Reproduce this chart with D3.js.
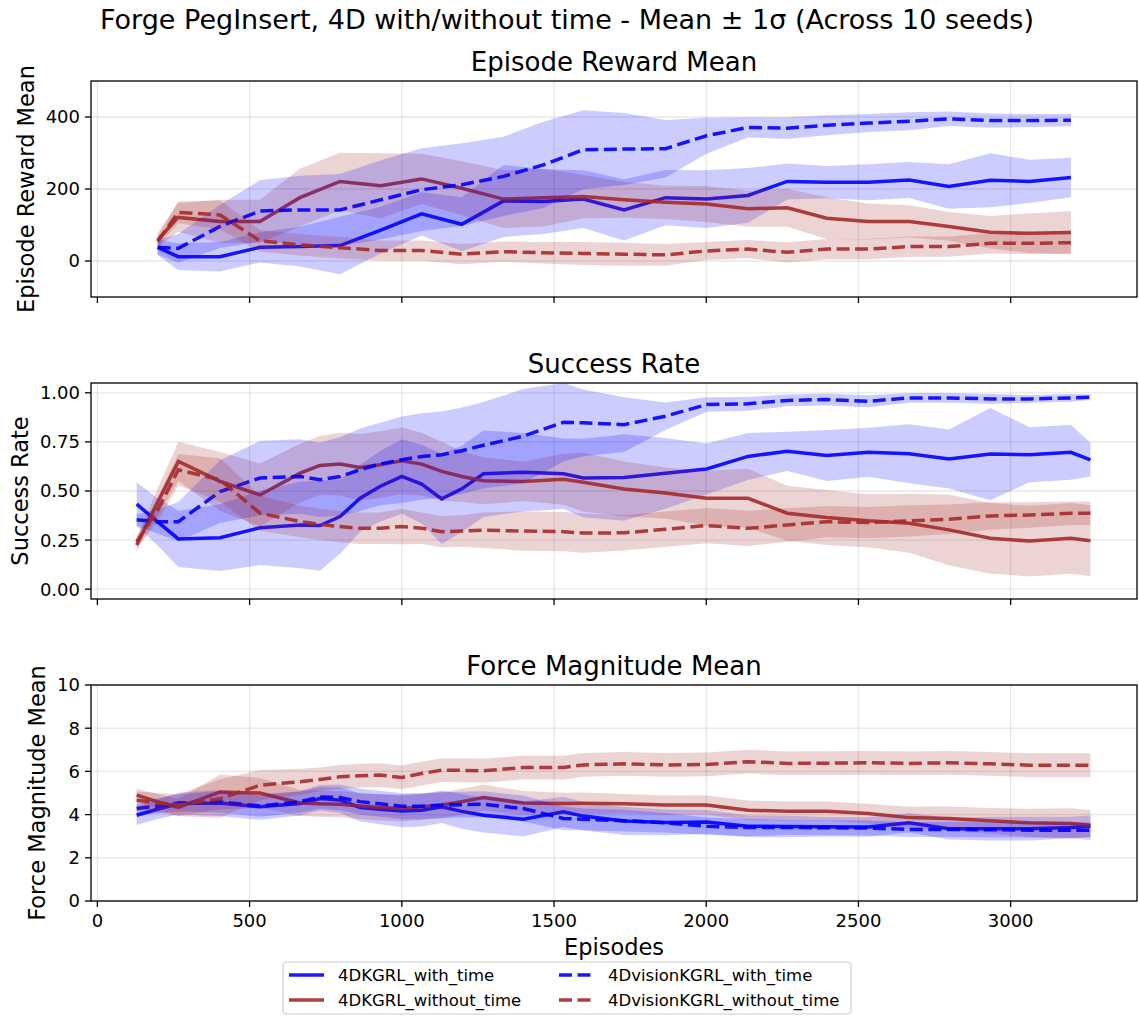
<!DOCTYPE html>
<html lang="en">
<head>
    <meta charset="UTF-8">
    <title>Forge PegInsert</title>
    <style>
        body { margin: 0; background: #fff; }
        svg { display: block; font-family: "DejaVu Sans", sans-serif; }
    </style>
    <script src="https://d3js.org/d3.v7.min.js"></script>
</head>
<body>
<svg id="chart" width="1139" height="1016"></svg>

<script>
    // episodes sampled in the top panel
    const episodesReward = [198, 265, 403, 534, 665, 797, 931, 1065, 1197, 1334, 1465, 1596,
        1730, 1866, 2001, 2137, 2266, 2396, 2532, 2667, 2797, 2933, 3062, 3198];
    // episodes sampled in the two lower panels
    const episodesDense = [129, 197, 266, 403, 534, 666, 731, 797, 863, 928, 1000, 1065, 1131,
        1197, 1268, 1399, 1531, 1596, 1730, 1866, 2001, 2137, 2266, 2396, 2532, 2667, 2797,
        2933, 3062, 3198, 3262];

    const seriesNames = ["4DKGRL_with_time", "4DKGRL_without_time",
        "4DvisionKGRL_with_time", "4DvisionKGRL_without_time"];

    // Episode Reward Mean
    const rewardKgrlTime = [38, 12, 12, 38, 40, 43, 86, 131, 102, 167, 165, 172, 142, 176, 172, 182, 221, 219, 219, 225, 207, 224, 221, 232];
    const rewardKgrlTimeSd = [22, 37, 41, 42, 55, 80, 65, 60, 75, 100, 90, 80, 85, 77, 80, 76, 50, 45, 50, 50, 62, 75, 60, 55];
    const rewardKgrlNoTime = [58, 121, 110, 110, 176, 221, 209, 228, 202, 172, 176, 179, 170, 163, 158, 145, 148, 119, 110, 110, 96, 80, 77, 79];
    const rewardKgrlNoTimeSd = [20, 40, 60, 60, 80, 80, 90, 70, 75, 80, 80, 60, 50, 46, 50, 50, 53, 58, 50, 45, 40, 45, 55, 60];
    const rewardVisionTime = [38, 35, 96, 139, 142, 142, 170, 198, 212, 235, 267, 309, 311, 312, 348, 371, 369, 377, 383, 388, 395, 390, 390, 391];
    const rewardVisionTimeSd = [20, 40, 60, 85, 95, 100, 110, 115, 115, 110, 120, 110, 100, 80, 50, 28, 30, 28, 25, 25, 20, 20, 18, 17];
    const rewardVisionNoTime = [54, 135, 128, 56, 45, 37, 29, 29, 19, 26, 23, 21, 19, 17, 28, 33, 24, 33, 33, 40, 40, 49, 49, 51];
    const rewardVisionNoTimeSd = [15, 30, 40, 30, 30, 30, 28, 28, 28, 28, 30, 32, 32, 30, 25, 25, 28, 28, 28, 28, 28, 28, 30, 30];

    // Success Rate
    const successKgrlTime = [0.433, 0.344, 0.256, 0.262, 0.313, 0.327, 0.324, 0.37, 0.463, 0.523, 0.574, 0.535, 0.46, 0.511, 0.588, 0.596, 0.588, 0.566, 0.569, 0.59, 0.612, 0.676, 0.702, 0.681, 0.697, 0.69, 0.663, 0.688, 0.685, 0.697, 0.659];
    const successKgrlTimeSd = [0.11, 0.12, 0.143, 0.17, 0.19, 0.22, 0.23, 0.19, 0.17, 0.18, 0.19, 0.2, 0.23, 0.22, 0.22, 0.2, 0.18, 0.2, 0.22, 0.18, 0.13, 0.12, 0.1, 0.13, 0.125, 0.15, 0.15, 0.235, 0.14, 0.14, 0.085];
    const successKgrlNoTime = [0.225, 0.44, 0.651, 0.549, 0.48, 0.591, 0.63, 0.637, 0.62, 0.634, 0.654, 0.637, 0.6, 0.574, 0.552, 0.549, 0.56, 0.545, 0.51, 0.49, 0.463, 0.463, 0.387, 0.365, 0.348, 0.336, 0.302, 0.259, 0.245, 0.259, 0.247];
    const successKgrlNoTimeSd = [0.03, 0.07, 0.1, 0.15, 0.16, 0.15, 0.15, 0.16, 0.17, 0.17, 0.17, 0.16, 0.15, 0.13, 0.12, 0.1, 0.13, 0.15, 0.14, 0.13, 0.14, 0.15, 0.14, 0.14, 0.135, 0.15, 0.18, 0.18, 0.18, 0.18, 0.18];
    const successVisionTime = [0.353, 0.344, 0.344, 0.497, 0.566, 0.574, 0.557, 0.574, 0.608, 0.637, 0.659, 0.676, 0.685, 0.705, 0.733, 0.779, 0.85, 0.847, 0.838, 0.881, 0.94, 0.944, 0.961, 0.966, 0.957, 0.974, 0.974, 0.969, 0.969, 0.974, 0.978];
    const successVisionTimeSd = [0.03, 0.06, 0.1, 0.16, 0.19, 0.19, 0.19, 0.2, 0.21, 0.21, 0.22, 0.22, 0.22, 0.22, 0.22, 0.24, 0.2, 0.17, 0.14, 0.07, 0.037, 0.035, 0.03, 0.03, 0.03, 0.025, 0.025, 0.025, 0.02, 0.02, 0.013];
    const successVisionNoTime = [0.242, 0.4, 0.608, 0.557, 0.387, 0.344, 0.33, 0.319, 0.31, 0.31, 0.319, 0.31, 0.293, 0.296, 0.3, 0.296, 0.293, 0.286, 0.287, 0.305, 0.324, 0.31, 0.327, 0.344, 0.339, 0.348, 0.356, 0.373, 0.378, 0.387, 0.387];
    const successVisionNoTimeSd = [0.03, 0.06, 0.08, 0.11, 0.09, 0.08, 0.08, 0.08, 0.08, 0.08, 0.09, 0.08, 0.08, 0.08, 0.09, 0.1, 0.1, 0.1, 0.09, 0.09, 0.09, 0.09, 0.085, 0.08, 0.08, 0.08, 0.075, 0.07, 0.065, 0.06, 0.06];

    // Force Magnitude Mean
    const forceKgrlTime = [3.97, 4.25, 4.51, 4.54, 4.36, 4.51, 4.74, 4.67, 4.33, 4.25, 4.17, 4.2, 4.36, 4.15, 3.97, 3.79, 4.13, 3.93, 3.7, 3.64, 3.66, 3.46, 3.45, 3.44, 3.43, 3.62, 3.35, 3.35, 3.35, 3.4, 3.46];
    const forceKgrlTimeSd = [0.45, 0.45, 0.5, 0.6, 0.6, 0.55, 0.55, 0.6, 0.65, 0.7, 0.75, 0.75, 0.75, 0.8, 0.8, 0.8, 0.7, 0.65, 0.65, 0.6, 0.55, 0.5, 0.5, 0.45, 0.45, 0.45, 0.5, 0.55, 0.55, 0.5, 0.5];
    const forceKgrlNoTime = [4.9, 4.6, 4.33, 5.05, 5.0, 4.54, 4.5, 4.48, 4.4, 4.33, 4.28, 4.36, 4.44, 4.6, 4.79, 4.54, 4.51, 4.52, 4.5, 4.44, 4.44, 4.2, 4.16, 4.16, 4.05, 3.86, 3.82, 3.71, 3.62, 3.59, 3.51];
    const forceKgrlNoTimeSd = [0.3, 0.35, 0.4, 0.8, 0.7, 0.6, 0.6, 0.6, 0.6, 0.6, 0.6, 0.6, 0.6, 0.6, 0.6, 0.55, 0.5, 0.5, 0.45, 0.45, 0.45, 0.45, 0.45, 0.45, 0.45, 0.5, 0.55, 0.6, 0.65, 0.7, 0.7];
    const forceVisionTime = [4.28, 4.4, 4.54, 4.59, 4.4, 4.59, 4.82, 4.79, 4.6, 4.5, 4.39, 4.39, 4.43, 4.46, 4.48, 4.28, 3.82, 3.78, 3.72, 3.62, 3.46, 3.4, 3.4, 3.39, 3.38, 3.31, 3.31, 3.3, 3.28, 3.28, 3.28];
    const forceVisionTimeSd = [0.3, 0.35, 0.4, 0.5, 0.5, 0.5, 0.55, 0.6, 0.6, 0.6, 0.6, 0.6, 0.6, 0.6, 0.6, 0.6, 0.55, 0.5, 0.5, 0.45, 0.4, 0.4, 0.35, 0.35, 0.35, 0.35, 0.35, 0.35, 0.35, 0.35, 0.35];
    const forceVisionNoTime = [4.67, 4.55, 4.44, 4.74, 5.36, 5.52, 5.63, 5.75, 5.8, 5.83, 5.72, 5.9, 6.06, 6.05, 6.03, 6.18, 6.18, 6.3, 6.35, 6.3, 6.32, 6.45, 6.37, 6.38, 6.4, 6.37, 6.4, 6.35, 6.29, 6.29, 6.29];
    const forceVisionNoTimeSd = [0.4, 0.45, 0.5, 0.9, 0.7, 0.6, 0.55, 0.55, 0.55, 0.55, 0.55, 0.55, 0.55, 0.55, 0.55, 0.55, 0.55, 0.55, 0.55, 0.55, 0.55, 0.55, 0.55, 0.55, 0.55, 0.55, 0.55, 0.55, 0.55, 0.55, 0.55];

    const xTicks = [0, 500, 1000, 1500, 2000, 2500, 3000];

    const BLUE = "#0000ff", RED = "#a52a2a";
    const styles = [
        {color: BLUE, dash: null},
        {color: RED, dash: null},
        {color: BLUE, dash: "13,5.5"},
        {color: RED, dash: "13,5.5"}
    ];

    const panels = [
        {
            title: "Episode Reward Mean", ylabel: "Episode Reward Mean",
            domain: [-100, 500], ticks: [0, 200, 400], fmt: d3.format("d"),
            x: episodesReward,
            mean: [rewardKgrlTime, rewardKgrlNoTime, rewardVisionTime, rewardVisionNoTime],
            sd: [rewardKgrlTimeSd, rewardKgrlNoTimeSd, rewardVisionTimeSd, rewardVisionNoTimeSd]
        },
        {
            title: "Success Rate", ylabel: "Success Rate",
            domain: [-0.05, 1.05], ticks: [0, 0.25, 0.5, 0.75, 1], fmt: d3.format(".2f"),
            x: episodesDense,
            mean: [successKgrlTime, successKgrlNoTime, successVisionTime, successVisionNoTime],
            sd: [successKgrlTimeSd, successKgrlNoTimeSd, successVisionTimeSd, successVisionNoTimeSd]
        },
        {
            title: "Force Magnitude Mean", ylabel: "Force Magnitude Mean",
            domain: [0, 10], ticks: [0, 2, 4, 6, 8, 10], fmt: d3.format("d"),
            x: episodesDense,
            mean: [forceKgrlTime, forceKgrlNoTime, forceVisionTime, forceVisionNoTime],
            sd: [forceKgrlTimeSd, forceKgrlNoTimeSd, forceVisionTimeSd, forceVisionNoTimeSd]
        }
    ];

    const svg = d3.select("#chart");
    const left = 91, right = 1137, panelH = 216;
    const tops = [81, 383, 685];

    const x = d3.scaleLinear().domain([-21, 3415]).range([left, right]);

    svg.append("rect").attr("width", 1139).attr("height", 1016).attr("fill", "#fff");

    svg.append("text")
        .attr("x", 567).attr("y", 29)
        .attr("text-anchor", "middle")
        .attr("font-size", "27px")
        .text("Forge PegInsert, 4D with/without time - Mean \u00b1 1\u03c3 (Across 10 seeds)");

    panels.forEach(function (p, pi) {
        const top = tops[pi], bottom = top + panelH;
        const y = d3.scaleLinear().domain(p.domain).range([bottom, top]);
        const g = svg.append("g");

        g.append("clipPath").attr("id", "clip" + pi)
            .append("rect").attr("x", left).attr("y", top)
            .attr("width", right - left).attr("height", panelH);

        // grid
        const grid = g.append("g").attr("stroke", "#b0b0b0").attr("stroke-opacity", 0.3).attr("stroke-width", 1.3);
        xTicks.forEach(function (t) {
            grid.append("line").attr("x1", x(t)).attr("x2", x(t)).attr("y1", top).attr("y2", bottom);
        });
        p.ticks.forEach(function (t) {
            grid.append("line").attr("x1", left).attr("x2", right).attr("y1", y(t)).attr("y2", y(t));
        });

        const plot = g.append("g").attr("clip-path", "url(#clip" + pi + ")");
        p.mean.forEach(function (m, si) {
            const rows = p.x.map(function (e, i) {
                return {e: e, m: m[i], s: p.sd[si][i]};
            });
            const area = d3.area()
                .x(function (d) { return x(d.e); })
                .y0(function (d) { return y(d.m - d.s); })
                .y1(function (d) { return y(d.m + d.s); });
            plot.append("path").datum(rows)
                .attr("d", area)
                .attr("fill", styles[si].color)
                .attr("fill-opacity", 0.2);
            const line = d3.line()
                .x(function (d) { return x(d.e); })
                .y(function (d) { return y(d.m); });
            plot.append("path").datum(rows)
                .attr("d", line)
                .attr("fill", "none")
                .attr("stroke", styles[si].color)
                .attr("stroke-opacity", 0.9)
                .attr("stroke-width", 3.5)
                .attr("stroke-dasharray", styles[si].dash);
        });

        // frame
        g.append("rect").attr("x", left).attr("y", top)
            .attr("width", right - left).attr("height", panelH)
            .attr("fill", "none").attr("stroke", "#000").attr("stroke-width", 1.3);

        // x ticks
        xTicks.forEach(function (t) {
            g.append("line").attr("x1", x(t)).attr("x2", x(t))
                .attr("y1", bottom).attr("y2", bottom + 6)
                .attr("stroke", "#000").attr("stroke-width", 1.3);
            if (pi === 2) {
                g.append("text").attr("x", x(t)).attr("y", bottom + 26)
                    .attr("text-anchor", "middle").attr("font-size", "18px")
                    .text(t);
            }
        });

        // y ticks
        const labels = g.append("g");
        p.ticks.forEach(function (t) {
            g.append("line").attr("x1", left - 6).attr("x2", left)
                .attr("y1", y(t)).attr("y2", y(t))
                .attr("stroke", "#000").attr("stroke-width", 1.3);
            labels.append("text").attr("x", left - 11).attr("y", y(t))
                .attr("dy", "0.36em")
                .attr("text-anchor", "end").attr("font-size", "18px")
                .text(p.fmt(t));
        });
        const lb = labels.node().getBBox();

        g.append("text")
            .attr("transform", "translate(" + (lb.x - 20) + "," + (top + panelH / 2) + ") rotate(-90)")
            .attr("dy", "0.36em")
            .attr("text-anchor", "middle").attr("font-size", "22.5px")
            .text(p.ylabel);

        g.append("text")
            .attr("x", (left + right) / 2).attr("y", top - 10)
            .attr("text-anchor", "middle").attr("font-size", "26px")
            .text(p.title);
    });

    svg.append("text")
        .attr("x", (left + right) / 2).attr("y", 955)
        .attr("text-anchor", "middle").attr("font-size", "22.5px")
        .text("Episodes");

    // legend
    const legend = svg.append("g");
    legend.append("rect")
        .attr("x", 283).attr("y", 962).attr("width", 568).attr("height", 52)
        .attr("rx", 4).attr("fill", "#fff").attr("fill-opacity", 0.8)
        .attr("stroke", "#cccccc").attr("stroke-width", 1.2);
    const legendPos = [
        {x: 289, y: 975}, {x: 289, y: 1000}, {x: 559, y: 975}, {x: 559, y: 1000}
    ];
    seriesNames.forEach(function (name, i) {
        const pos = legendPos[i];
        legend.append("line")
            .attr("x1", pos.x).attr("x2", pos.x + 35)
            .attr("y1", pos.y).attr("y2", pos.y)
            .attr("stroke", styles[i].color).attr("stroke-opacity", 0.9)
            .attr("stroke-width", 3.5)
            .attr("stroke-dasharray", styles[i].dash);
        legend.append("text")
            .attr("x", pos.x + 49).attr("y", pos.y).attr("dy", "0.36em")
            .attr("font-size", "16.5px")
            .text(name);
    });
</script>
</body>
</html>
